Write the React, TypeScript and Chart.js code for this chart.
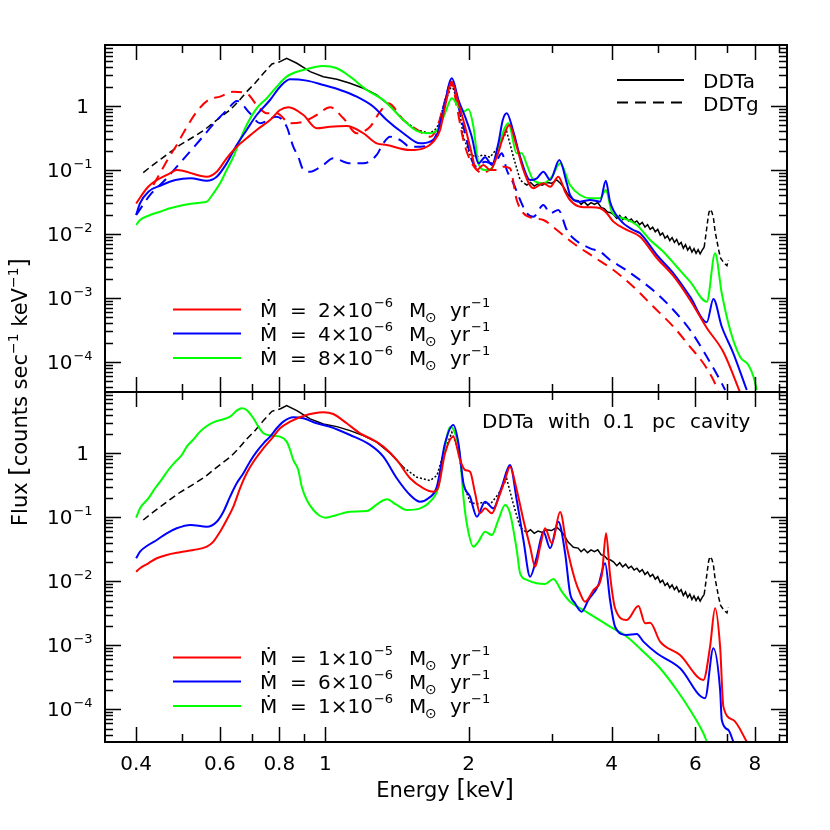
import React, { useEffect, useRef } from 'react';
import { Chart, registerables } from 'chart.js';

Chart.register(...registerables);

type Pt = [number, number];

// ---------- axes ----------
const X_MIN = 0.344;
const X_MAX = 9.35;
const TOP_Y_MIN = 3.4e-5;
const TOP_Y_MAX = 8.97;
const BOT_Y_MIN = 3.08e-5;
const BOT_Y_MAX = 9.07;

const X_MAJOR_TICKS = [0.4, 0.6, 0.8, 1, 2, 4, 6, 8];
const X_MINOR_TICKS = [0.5, 0.7, 0.9, 3, 5, 7, 9];
const X_TICK_LABELS = ['0.4', '0.6', '0.8', '1', '2', '4', '6', '8'];
const Y_DECADES = [1e-4, 1e-3, 1e-2, 1e-1, 1];
const Y_EXPONENTS = ['−4', '−3', '−2', '−1', ''];

// ---------- legends ----------
const TOP_MANTISSAS = ['2', '4', '8'];
const TOP_EXPONENTS = ['−6', '−6', '−6'];
const BOT_MANTISSAS = ['1', '6', '1'];
const BOT_EXPONENTS = ['−5', '−6', '−6'];
const SERIES_COLORS = ['#ff0000', '#0000ff', '#00ff00'];

// ---------- data: [energy keV, flux counts/s/keV] ----------
const DDTA_REFERENCE: Pt[] = [
  [0.414, 0.0908], [0.431, 0.1155], [0.453, 0.152], [0.475, 0.198], [0.495, 0.246], [0.515, 0.294],
  [0.536, 0.352], [0.559, 0.432], [0.581, 0.548], [0.606, 0.698], [0.630, 0.866], [0.656, 1.17],
  [0.683, 1.67], [0.711, 2.26], [0.741, 3.24], [0.772, 4.53], [0.803, 4.92], [0.829, 5.56],
  [0.871, 4.65], [0.929, 3.44], [0.990, 2.87], [1.057, 2.61], [1.127, 2.26], [1.202, 1.89],
  [1.282, 1.49], [1.368, 1.0], [1.459, 0.604], [1.557, 0.422], [1.660, 0.375], [1.716, 0.449],
  [1.771, 0.975], [1.845, 2.13], [1.905, 1.10], [1.951, 0.331], [2.015, 0.172], [2.082, 0.161],
  [2.149, 0.172], [2.220, 0.158], [2.311, 0.231], [2.407, 0.397], [2.485, 0.161], [2.568, 0.0698],
  [2.62, 0.062], [2.653, 0.0583], [2.70, 0.064], [2.75, 0.056], [2.80, 0.061], [2.86, 0.058],
  [2.92, 0.064], [2.99, 0.062], [3.067, 0.0698], [3.12, 0.062], [3.166, 0.0548], [3.24, 0.041],
  [3.323, 0.034], [3.40, 0.033], [3.45, 0.029], [3.50, 0.032], [3.56, 0.028], [3.62, 0.031],
  [3.68, 0.029], [3.74, 0.031], [3.80, 0.026], [3.86, 0.025], [3.92, 0.022], [3.98, 0.0215],
  [4.04, 0.020], [4.10, 0.0175], [4.16, 0.0195], [4.22, 0.0168], [4.28, 0.0185], [4.34, 0.0160],
  [4.40, 0.0172], [4.46, 0.0150], [4.52, 0.0160], [4.58, 0.0140], [4.64, 0.0152], [4.70, 0.0128],
  [4.76, 0.0140], [4.82, 0.0118], [4.88, 0.0128], [4.94, 0.0108], [5.00, 0.0118], [5.06, 0.0096],
  [5.12, 0.0104], [5.18, 0.0086], [5.24, 0.0094], [5.30, 0.0079], [5.36, 0.0088], [5.42, 0.0074],
  [5.48, 0.0082], [5.54, 0.0068], [5.60, 0.0074], [5.66, 0.0060], [5.72, 0.0068], [5.78, 0.0056],
  [5.84, 0.0063], [5.90, 0.0052], [5.96, 0.0059], [6.02, 0.0050], [6.08, 0.0057], [6.14, 0.0049],
  [6.20, 0.0056], [6.26, 0.0062], [6.31, 0.0095], [6.36, 0.015], [6.40, 0.021], [6.44, 0.0243],
  [6.50, 0.022], [6.55, 0.0175], [6.60, 0.011], [6.66, 0.0078], [6.72, 0.0055], [6.78, 0.0042],
  [6.86, 0.0037], [6.93, 0.0034], [6.99, 0.0032], [7.04, 0.0039],
];

const TOP_RED_DDTA: Pt[] = [
  [0.40, 0.030], [0.424, 0.0548], [0.471, 0.0888], [0.487, 0.100], [0.545, 0.0815], [0.563, 0.0786],
  [0.591, 0.094], [0.620, 0.152], [0.651, 0.231], [0.683, 0.313], [0.717, 0.422], [0.765, 0.604],
  [0.803, 0.866], [0.836, 0.954], [0.899, 0.723], [0.959, 0.449], [1.023, 0.475], [1.109, 0.487],
  [1.202, 0.375], [1.282, 0.261], [1.346, 0.246], [1.507, 0.205], [1.608, 0.218], [1.687, 0.277],
  [1.743, 0.422], [1.785, 0.975], [1.845, 2.40], [1.905, 1.10], [1.967, 0.475], [2.015, 0.231],
  [2.082, 0.100], [2.149, 0.120], [2.220, 0.100], [2.294, 0.161], [2.368, 0.331], [2.438, 0.505],
  [2.526, 0.231], [2.609, 0.100], [2.737, 0.0518], [2.874, 0.0620], [2.970, 0.0548], [3.090, 0.0786],
  [3.193, 0.0458], [3.270, 0.034], [3.433, 0.0267], [3.604, 0.0261], [3.782, 0.0252], [3.906, 0.0211],
  [4.034, 0.0156], [4.304, 0.01155], [4.590, 0.00908], [4.977, 0.00422], [5.394, 0.00221],
  [5.848, 0.00093], [6.341, 0.00034], [6.871, 0.000143], [7.5, 0.0000295],
];

const TOP_BLUE_DDTA: Pt[] = [
  [0.40, 0.0198], [0.4076, 0.0302], [0.4244, 0.0458], [0.4529, 0.0583], [0.4838, 0.0698], [0.5206, 0.0742],
  [0.5632, 0.068], [0.591, 0.0786], [0.620, 0.127], [0.651, 0.246], [0.683, 0.422], [0.717, 0.723],
  [0.765, 1.24], [0.803, 2.00], [0.843, 2.61], [0.914, 2.49], [0.990, 2.13], [1.074, 1.78],
  [1.164, 1.40], [1.262, 0.975], [1.346, 0.604], [1.459, 0.375], [1.582, 0.261], [1.660, 0.277],
  [1.716, 0.352], [1.771, 0.866], [1.845, 2.71], [1.905, 1.24], [1.967, 0.681], [2.032, 0.331],
  [2.098, 0.127], [2.167, 0.158], [2.239, 0.120], [2.311, 0.261], [2.361, 0.604], [2.407, 0.769],
  [2.485, 0.397], [2.568, 0.161], [2.695, 0.0698], [2.784, 0.0742], [2.874, 0.094], [2.970, 0.0698],
  [3.105, 0.143], [3.219, 0.062], [3.270, 0.0407], [3.433, 0.032], [3.604, 0.034], [3.782, 0.032],
  [3.888, 0.068], [3.969, 0.032], [4.168, 0.01655], [4.443, 0.01155], [4.590, 0.01026], [4.977, 0.0047],
  [5.394, 0.00243], [5.848, 0.00105], [6.341, 0.000417], [6.546, 0.000965], [6.818, 0.000356],
  [7.21, 0.000137], [7.695, 0.0000365],
];

const TOP_GREEN_DDTA: Pt[] = [
  [0.40, 0.01383], [0.4076, 0.01655], [0.428, 0.0198], [0.4493, 0.0223], [0.4714, 0.0252], [0.5029, 0.0284],
  [0.545, 0.0308], [0.5632, 0.032], [0.5814, 0.0432], [0.6006, 0.062], [0.620, 0.100], [0.6405, 0.161],
  [0.6615, 0.294], [0.683, 0.505], [0.717, 0.92], [0.753, 1.32], [0.790, 2.00], [0.829, 2.87],
  [0.899, 3.65], [0.990, 4.22], [1.057, 3.88], [1.127, 2.87], [1.222, 1.78], [1.324, 1.24],
  [1.459, 0.604], [1.557, 0.407], [1.660, 0.375], [1.729, 0.449], [1.785, 0.769], [1.845, 1.32],
  [1.905, 0.975], [1.951, 0.815], [1.998, 0.888], [2.048, 0.475], [2.098, 0.127], [2.167, 0.100],
  [2.239, 0.106], [2.311, 0.231], [2.426, 0.537], [2.526, 0.182], [2.588, 0.182], [2.653, 0.12],
  [2.737, 0.0698], [2.874, 0.062], [2.994, 0.0786], [3.117, 0.127], [3.270, 0.0583], [3.433, 0.0407],
  [3.604, 0.0361], [3.782, 0.0361], [3.888, 0.0487], [4.002, 0.0223], [4.234, 0.0176], [4.517, 0.01383],
  [4.819, 0.00805], [5.138, 0.00529], [5.483, 0.00308], [5.848, 0.0018], [6.341, 0.000875],
  [6.60, 0.00499], [6.818, 0.00118], [7.10, 0.000316], [7.448, 0.000121], [7.756, 0.0000898],
  [7.95, 0.0000589], [8.08, 0.0000365],
];

const TOP_RED_DDTG: Pt[] = [
  [0.4347, 0.0583], [0.4529, 0.100], [0.4675, 0.152], [0.4869, 0.246], [0.507, 0.422], [0.5364, 0.815],
  [0.5675, 1.24], [0.6006, 1.40], [0.6405, 1.67], [0.683, 1.58], [0.717, 1.04], [0.753, 0.769],
  [0.790, 0.769], [0.843, 0.537], [0.899, 0.569], [0.959, 0.723], [1.023, 0.954], [1.091, 0.643],
  [1.164, 0.375], [1.242, 0.475], [1.303, 0.815], [1.357, 1.10], [1.459, 0.604], [1.582, 0.397],
  [1.660, 0.331], [1.716, 0.449], [1.771, 0.975], [1.845, 2.26], [1.89, 0.975], [1.951, 0.294],
  [2.015, 0.143], [2.082, 0.100], [2.149, 0.0888], [2.220, 0.100], [2.294, 0.100], [2.368, 0.1127],
  [2.445, 0.106], [2.526, 0.034], [2.609, 0.0211], [2.737, 0.0176], [2.874, 0.01655], [3.067, 0.01155],
  [3.323, 0.00716], [3.662, 0.00442], [4.034, 0.00274], [4.443, 0.0015], [4.896, 0.000731],
  [5.394, 0.000356], [5.848, 0.000173], [6.237, 0.0000955], [6.546, 0.0000523], [6.71, 0.000034],
];

const TOP_BLUE_DDTG: Pt[] = [
  [0.40, 0.0198], [0.428, 0.0407], [0.46, 0.0698], [0.495, 0.129], [0.545, 0.294], [0.592, 0.604],
  [0.621, 0.866], [0.652, 1.20], [0.694, 0.769], [0.729, 0.537], [0.790, 0.681], [0.829, 0.475],
  [0.856, 0.231], [0.877, 0.161], [0.899, 0.100], [0.929, 0.094], [0.990, 0.12], [1.039, 0.152],
  [1.127, 0.127], [1.202, 0.127], [1.282, 0.172], [1.324, 0.261], [1.368, 0.331], [1.436, 0.294],
  [1.507, 0.231], [1.582, 0.231], [1.647, 0.246], [1.716, 0.375], [1.771, 0.975], [1.845, 2.40],
  [1.905, 0.975], [1.967, 0.375], [2.032, 0.143], [2.082, 0.1127], [2.167, 0.135], [2.239, 0.127],
  [2.294, 0.143], [2.350, 0.182], [2.407, 0.100], [2.485, 0.062], [2.568, 0.034], [2.653, 0.0211],
  [2.737, 0.0186], [2.874, 0.0284], [2.970, 0.0211], [3.090, 0.0237], [3.219, 0.01155], [3.323, 0.00857],
  [3.604, 0.00598], [3.782, 0.00529], [3.969, 0.00393], [4.234, 0.00291], [4.590, 0.00191],
  [4.977, 0.00118], [5.394, 0.00065], [5.848, 0.000316], [6.341, 0.000121], [6.76, 0.0000523],
  [6.93, 0.0000365],
];

const BOT_RED_CAVITY: Pt[] = [
  [0.40, 0.0141], [0.4076, 0.016], [0.4244, 0.0191], [0.442, 0.0229], [0.4638, 0.0258], [0.495, 0.0284],
  [0.528, 0.0308], [0.5632, 0.0347], [0.5814, 0.0416], [0.6006, 0.0596], [0.620, 0.0908], [0.6405, 0.1466],
  [0.6615, 0.284], [0.683, 0.487], [0.7058, 0.739], [0.741, 1.20], [0.772, 1.71], [0.803, 2.46],
  [0.843, 3.12], [0.899, 3.83], [0.990, 4.37], [1.039, 4.11], [1.109, 2.94], [1.183, 2.05],
  [1.262, 1.61], [1.324, 1.27], [1.413, 0.786], [1.507, 0.407], [1.608, 0.284], [1.687, 0.251],
  [1.729, 0.301], [1.785, 1.0], [1.858, 1.82], [1.92, 0.786], [1.967, 0.548], [2.015, 0.516],
  [2.065, 0.237], [2.115, 0.1155], [2.167, 0.138], [2.239, 0.1155], [2.311, 0.198], [2.387, 0.383],
  [2.445, 0.618], [2.526, 0.267], [2.609, 0.0908], [2.695, 0.0347], [2.761, 0.0169], [2.829, 0.0347],
  [2.897, 0.0673], [2.994, 0.0392], [3.117, 0.121], [3.219, 0.0347], [3.350, 0.0105], [3.433, 0.0065],
  [3.517, 0.0048], [3.662, 0.0073], [3.814, 0.0125], [3.893, 0.0562], [3.969, 0.0125], [4.067, 0.00379],
  [4.304, 0.00249], [4.553, 0.00411], [4.702, 0.00221], [4.819, 0.00225], [5.057, 0.00114],
  [5.571, 0.000705], [6.237, 0.000287], [6.442, 0.00095], [6.60, 0.00379], [6.763, 0.00095],
  [6.871, 0.00011], [7.21, 0.000068], [7.695, 0.0000312],
];

const BOT_BLUE_CAVITY: Pt[] = [
  [0.40, 0.0229], [0.4076, 0.029], [0.4244, 0.0369], [0.442, 0.0442], [0.4638, 0.0562], [0.4869, 0.0673],
  [0.5206, 0.0758], [0.5632, 0.0713], [0.591, 0.0853], [0.6103, 0.1223], [0.6304, 0.21], [0.651, 0.34],
  [0.6723, 0.487], [0.694, 0.739], [0.717, 1.06], [0.741, 1.43], [0.765, 1.82], [0.790, 2.46],
  [0.816, 3.12], [0.856, 3.65], [0.899, 3.52], [0.959, 2.94], [1.023, 2.60], [1.127, 1.93],
  [1.242, 1.35], [1.324, 0.885], [1.413, 0.407], [1.507, 0.223], [1.582, 0.175], [1.647, 0.198],
  [1.716, 0.301], [1.785, 1.43], [1.858, 2.77], [1.905, 1.43], [1.951, 0.34], [2.015, 0.21],
  [2.082, 0.102], [2.167, 0.175], [2.256, 0.138], [2.350, 0.301], [2.445, 0.656], [2.526, 0.186],
  [2.609, 0.0442], [2.695, 0.0118], [2.784, 0.0242], [2.874, 0.0596], [2.970, 0.0328], [3.090, 0.0853],
  [3.193, 0.0274], [3.270, 0.0065], [3.350, 0.00453], [3.461, 0.00335], [3.574, 0.0051], [3.751, 0.00875],
  [3.875, 0.0191], [3.969, 0.0051], [4.067, 0.00195], [4.304, 0.00145], [4.517, 0.0015], [4.665, 0.00114],
  [4.977, 0.00075], [5.571, 0.000437], [6.288, 0.000149], [6.546, 0.000898], [6.763, 0.0002],
  [6.818, 0.000068], [7.04, 0.0000475], [7.21, 0.0000312],
];

const BOT_GREEN_CAVITY: Pt[] = [
  [0.40, 0.0986], [0.4076, 0.138], [0.4244, 0.198], [0.4384, 0.284], [0.4529, 0.392], [0.4675, 0.548],
  [0.4838, 0.739], [0.499, 0.94], [0.5111, 1.27], [0.528, 1.65], [0.545, 2.18], [0.5632, 2.67],
  [0.586, 3.12], [0.6103, 3.40], [0.6304, 3.73], [0.651, 4.63], [0.667, 5.05], [0.683, 4.75],
  [0.7058, 3.52], [0.723, 2.60], [0.741, 2.05], [0.772, 1.88], [0.803, 1.82], [0.829, 1.52],
  [0.843, 1.13], [0.856, 0.786], [0.877, 0.548], [0.892, 0.301], [0.914, 0.186], [0.9436, 0.13],
  [0.9747, 0.1047], [1.0, 0.0986], [1.057, 0.1086], [1.127, 0.1223], [1.222, 0.1254], [1.293, 0.1655],
  [1.346, 0.191], [1.413, 0.1556], [1.483, 0.13], [1.582, 0.138], [1.660, 0.175], [1.729, 0.301],
  [1.785, 1.27], [1.829, 2.60], [1.874, 2.05], [1.92, 0.885], [1.951, 0.21], [1.983, 0.0806],
  [2.048, 0.0347], [2.098, 0.0416], [2.167, 0.0596], [2.239, 0.0529], [2.311, 0.0908], [2.387, 0.1556],
  [2.445, 0.1155], [2.526, 0.0308], [2.568, 0.0133], [2.653, 0.0105], [2.784, 0.0093], [2.897, 0.00908],
  [3.017, 0.01087], [3.143, 0.00688], [3.270, 0.0048], [3.488, 0.00356], [3.722, 0.00264], [3.969, 0.00195],
  [4.304, 0.00136], [4.665, 0.000794], [5.057, 0.000437], [5.483, 0.0002], [5.848, 0.0000975],
  [6.237, 0.0000422], [6.341, 0.0000312],
];

// ---------- drawing helpers ----------
const FONT = '"DejaVu Sans", "Liberation Sans", sans-serif';
const setFont = (ctx: CanvasRenderingContext2D, size: number) => {
  ctx.font = `${size}px ${FONT}`;
};

type Part = { t: string; size: number; dy?: number };
const partsWidth = (ctx: CanvasRenderingContext2D, parts: Part[]) =>
  parts.reduce((w, p) => {
    setFont(ctx, p.size);
    return w + ctx.measureText(p.t).width;
  }, 0);
const drawParts = (ctx: CanvasRenderingContext2D, x: number, y: number, parts: Part[]) => {
  let cx = x;
  for (const p of parts) {
    setFont(ctx, p.size);
    ctx.fillText(p.t, cx, y + (p.dy ?? 0));
    cx += ctx.measureText(p.t).width;
  }
};

const drawMdotEntry = (
  ctx: CanvasRenderingContext2D,
  lineY: number,
  color: string,
  mant: string,
  exp: string,
) => {
  ctx.save();
  ctx.strokeStyle = color;
  ctx.lineWidth = 2;
  ctx.setLineDash([]);
  ctx.beginPath();
  ctx.moveTo(173, lineY);
  ctx.lineTo(241, lineY);
  ctx.stroke();
  ctx.fillStyle = '#000';
  ctx.textAlign = 'left';
  ctx.textBaseline = 'alphabetic';
  const b = lineY + 7;
  setFont(ctx, 20);
  ctx.fillText('Ṁ', 260, b);
  ctx.fillText('=', 290, b);
  const mantText = mant + '×10';
  ctx.fillText(mantText, 318, b);
  const mEnd = 318 + ctx.measureText(mantText).width;
  ctx.fillText('M', 409, b);
  ctx.fillText('yr', 450, b);
  const yrEnd = 450 + ctx.measureText('yr').width;
  setFont(ctx, 13);
  ctx.fillText(exp, mEnd + 1, b - 10);
  ctx.fillText('−1', yrEnd + 1, b - 10);
  setFont(ctx, 14);
  ctx.fillText('⊙', 425, b + 5);
  ctx.restore();
};

const makePanelPlugin = (panel: 'top' | 'bottom') => ({
  id: 'panel-' + panel,
  afterDraw(chart: any) {
    const { ctx, chartArea: a } = chart;
    const xs = chart.scales.x;
    const ys = chart.scales.y;
    ctx.save();
    ctx.setLineDash([]);
    ctx.strokeStyle = '#000';
    ctx.fillStyle = '#000';
    // frame
    ctx.lineWidth = 2;
    ctx.strokeRect(a.left, a.top, a.right - a.left, a.bottom - a.top);
    // ticks
    ctx.lineWidth = 1.5;
    ctx.beginPath();
    const xt = (v: number, len: number) => {
      const px = Math.round(xs.getPixelForValue(v)) + 0.5;
      ctx.moveTo(px, a.top);
      ctx.lineTo(px, a.top + len);
      ctx.moveTo(px, a.bottom);
      ctx.lineTo(px, a.bottom - len);
    };
    X_MAJOR_TICKS.forEach((v) => xt(v, 15));
    X_MINOR_TICKS.forEach((v) => xt(v, 8));
    for (let d = -5; d <= 1; d++) {
      for (let m = 1; m <= 9; m++) {
        const v = m * Math.pow(10, d);
        if (v < ys.min || v > ys.max) continue;
        const py = Math.round(ys.getPixelForValue(v)) + 0.5;
        const len = m === 1 ? 16 : 8;
        ctx.moveTo(a.left, py);
        ctx.lineTo(a.left + len, py);
        ctx.moveTo(a.right, py);
        ctx.lineTo(a.right - len, py);
      }
    }
    ctx.stroke();

    // y tick labels
    ctx.textBaseline = 'alphabetic';
    Y_DECADES.forEach((v, i) => {
      const py = ys.getPixelForValue(v);
      const b = py + 7;
      if (Y_EXPONENTS[i] === '') {
        setFont(ctx, 20);
        ctx.textAlign = 'right';
        ctx.fillText('1', 89, b);
      } else {
        ctx.textAlign = 'left';
        setFont(ctx, 20);
        ctx.fillText('10', 47, b);
        const end = 47 + ctx.measureText('10').width;
        setFont(ctx, 13);
        ctx.fillText(Y_EXPONENTS[i], end + 1, b - 9);
      }
    });

    if (panel === 'top') {
      // y title spanning both panels
      const parts: Part[] = [
        { t: 'Flux ', size: 21 },
        { t: '[', size: 24 },
        { t: 'counts sec', size: 21 },
        { t: '−1', size: 14, dy: -9 },
        { t: ' keV', size: 21 },
        { t: '−1', size: 14, dy: -9 },
        { t: ']', size: 24 },
      ];
      ctx.save();
      ctx.translate(27, 392);
      ctx.rotate(-Math.PI / 2);
      ctx.textAlign = 'left';
      const w = partsWidth(ctx, parts);
      drawParts(ctx, -w / 2, 0, parts);
      ctx.restore();

      // mass-loss legend
      TOP_MANTISSAS.forEach((m, i) =>
        drawMdotEntry(ctx, [309.5, 333.5, 358][i], SERIES_COLORS[i], m, TOP_EXPONENTS[i]),
      );
      // model legend
      ctx.strokeStyle = '#000';
      ctx.lineWidth = 2;
      ctx.beginPath();
      ctx.moveTo(617, 80);
      ctx.lineTo(684, 80);
      ctx.stroke();
      ctx.setLineDash([11, 7]);
      ctx.beginPath();
      ctx.moveTo(617, 102.5);
      ctx.lineTo(684, 102.5);
      ctx.stroke();
      ctx.setLineDash([]);
      setFont(ctx, 20);
      ctx.textAlign = 'left';
      ctx.fillText('DDTa', 703, 88);
      ctx.fillText('DDTg', 703, 110.5);
    } else {
      // x tick labels
      setFont(ctx, 20);
      ctx.textAlign = 'center';
      X_MAJOR_TICKS.forEach((v, i) => {
        ctx.fillText(X_TICK_LABELS[i], xs.getPixelForValue(v), 770);
      });
      // x title
      const parts: Part[] = [
        { t: 'Energy ', size: 21 },
        { t: '[', size: 24 },
        { t: 'keV', size: 21 },
        { t: ']', size: 24 },
      ];
      ctx.textAlign = 'left';
      const w = partsWidth(ctx, parts);
      drawParts(ctx, 445 - w / 2, 797, parts);
      // annotation
      setFont(ctx, 20);
      ctx.textAlign = 'left';
      const words: [number, string][] = [
        [482, 'DDTa'], [548, 'with'], [603, '0.1'], [652, 'pc'], [690, 'cavity'],
      ];
      words.forEach(([x, t]) => ctx.fillText(t, x, 428));
      // legend
      BOT_MANTISSAS.forEach((m, i) =>
        drawMdotEntry(ctx, [657.5, 681.5, 706][i], SERIES_COLORS[i], m, BOT_EXPONENTS[i]),
      );
    }
    ctx.restore();
  },
});

const toXY = (pts: Pt[]) => pts.map(([x, y]) => ({ x, y }));

const blackDataset = () => ({
  data: toXY(DDTA_REFERENCE),
  borderColor: '#000',
  borderWidth: 1.5,
  pointRadius: 0,
  tension: 0,
  segment: {
    borderDash: (c: any) => {
      const e = c.p0.parsed.x;
      if (e < 0.8) return [7, 4];
      if (e > 1.45 && e < 2.6) return [2, 2];
      if (e > 6.25) return [5, 3];
      return [];
    },
  },
});

const colored = (pts: Pt[], color: string, dashed = false) => ({
  data: toXY(pts),
  borderColor: color,
  borderWidth: 2,
  pointRadius: 0,
  cubicInterpolationMode: 'monotone' as const,
  borderDash: dashed ? [11, 7] : [],
});

const baseOptions = (yMin: number, yMax: number, padding: any) => ({
  animation: false as const,
  responsive: false,
  maintainAspectRatio: false,
  layout: { padding },
  plugins: {
    legend: { display: false },
    tooltip: { enabled: false },
    title: { display: false },
  },
  scales: {
    x: { type: 'logarithmic' as const, bounds: 'data', min: X_MIN, max: X_MAX, display: false },
    y: { type: 'logarithmic' as const, bounds: 'data', min: yMin, max: yMax, display: false },
  },
});

export default function App() {
  const topRef = useRef<HTMLCanvasElement | null>(null);
  const botRef = useRef<HTMLCanvasElement | null>(null);

  useEffect(() => {
    const top = new Chart(topRef.current as HTMLCanvasElement, {
      type: 'line',
      data: {
        datasets: [
          colored(TOP_RED_DDTA, SERIES_COLORS[0]),
          colored(TOP_BLUE_DDTA, SERIES_COLORS[1]),
          colored(TOP_GREEN_DDTA, SERIES_COLORS[2]),
          colored(TOP_RED_DDTG, SERIES_COLORS[0], true),
          colored(TOP_BLUE_DDTG, SERIES_COLORS[1], true),
          blackDataset(),
        ] as any,
      },
      options: baseOptions(TOP_Y_MIN, TOP_Y_MAX, { left: 105, right: 43, top: 45, bottom: 438 }) as any,
      plugins: [makePanelPlugin('top')],
    });
    const bot = new Chart(botRef.current as HTMLCanvasElement, {
      type: 'line',
      data: {
        datasets: [
          colored(BOT_RED_CAVITY, SERIES_COLORS[0]),
          colored(BOT_BLUE_CAVITY, SERIES_COLORS[1]),
          colored(BOT_GREEN_CAVITY, SERIES_COLORS[2]),
          blackDataset(),
        ] as any,
      },
      options: baseOptions(BOT_Y_MIN, BOT_Y_MAX, { left: 105, right: 43, top: 392, bottom: 88 }) as any,
      plugins: [makePanelPlugin('bottom')],
    });
    return () => {
      top.destroy();
      bot.destroy();
    };
  }, []);

  return (
    <div style={{ position: 'fixed', left: 0, top: 0, width: 830, height: 830, background: '#fff' }}>
      <canvas ref={topRef} width={830} height={830} style={{ position: 'absolute', left: 0, top: 0 }} />
      <canvas ref={botRef} width={830} height={830} style={{ position: 'absolute', left: 0, top: 0 }} />
    </div>
  );
}
